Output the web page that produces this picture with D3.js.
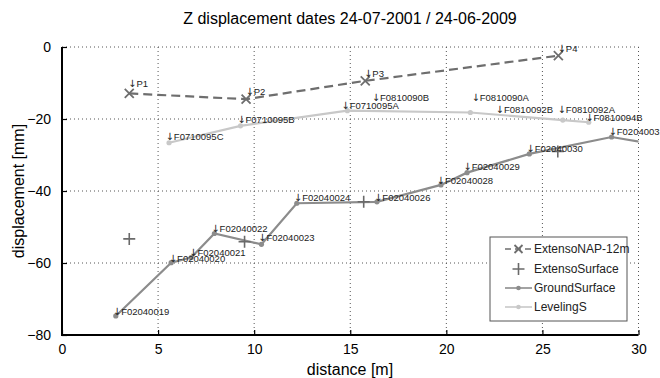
<!DOCTYPE html>
<html><head><meta charset="utf-8">
<script src="https://cdn.jsdelivr.net/npm/d3@7"></script>
<style>
body{margin:0;background:#fff;}
svg{display:block;font-family:"Liberation Sans",Arial,sans-serif;}
</style></head>
<body><svg id="c" width="660" height="378"></svg>
<script>
const titleText = "Z displacement dates 24-07-2001 / 24-06-2009";
const xTicks = [0, 5, 10, 15, 20, 25, 30];
const yTicks = [0, -20, -40, -60, -80];

const napX = [3.5, 9.58, 15.78, 25.83];
const napY = [-12.9, -14.5, -9.4, -2.4];

const surfX = [3.5, 9.5, 15.7, 25.8];
const surfY = [-53.3, -54.1, -43.0, -29.0];

const groundX = [2.8, 5.68, 6.72, 7.93, 10.38, 12.22, 16.39, 19.72, 21.08, 24.32, 28.6, 31.0];
const groundY = [-74.7, -59.9, -58.5, -51.8, -54.8, -43.4, -43.0, -38.3, -34.9, -29.7, -25.0, -27.2];

const levX = [5.57, 9.29, 14.85, 21.25, 26.06, 27.41];
const levY = [-26.6, -21.9, -17.7, -18.2, -20.3, -20.9];

const labelNames = ["P1","P2","P3","P4",
  "F0710095C","F0710095B","F0710095A","F0810090B","F0810090A","F0810092B","F0810092A","F0810094B",
  "F02040031","F02040030","F02040029","F02040028","F02040026","F02040024","F02040023","F02040022","F02040021","F02040020","F02040019"];
const labelX = [3.59, 9.7, 15.87, 25.94,
  5.54, 9.27, 14.69, 16.27, 21.46, 22.72, 25.94, 27.38,
  28.59, 24.32, 21.04, 19.65, 16.39, 12.22, 10.36, 7.92, 6.77, 5.71, 2.8];
const labelY = [-10.3, -12.4, -7.3, -0.4,
  -24.9, -20.3, -16.3, -14.0, -14.0, -17.3, -17.3, -19.5,
  -23.5, -28.2, -33.3, -37.1, -41.9, -41.9, -53.1, -50.4, -57.1, -58.7, -73.5];

const legendNames = ["ExtensoNAP-12m", "ExtensoSurface", "GroundSurface", "LevelingS"];

const colNap = "#6e6e6e", colSurf = "#6a6a6a", colGround = "#8c8c8c", colLev = "#c8c8c8";

const svg = d3.select("#c");
const L = 62, R = 638.5, T = 47, B = 335;
const x = d3.scaleLinear().domain([0, 30]).range([L, R]);
const y = d3.scaleLinear().domain([-80, 0]).range([B, T]);

// grid
const g = svg.append("g");
g.selectAll(".gx").data(xTicks.filter(d => d > 0)).enter().append("line")
  .attr("x1", d => x(d)).attr("x2", d => x(d)).attr("y1", T).attr("y2", B)
  .attr("stroke", "#555").attr("stroke-width", 1).attr("stroke-dasharray", "1,3");
g.selectAll(".gy").data(yTicks.filter(d => d > -80)).enter().append("line")
  .attr("y1", d => y(d)).attr("y2", d => y(d)).attr("x1", L).attr("x2", R)
  .attr("stroke", "#555").attr("stroke-width", 1).attr("stroke-dasharray", "1,3");

// axes
const xAxis = d3.axisBottom(x).tickValues(xTicks).tickSize(-5).tickPadding(9).tickFormat(d3.format("d"));
const yAxis = d3.axisLeft(y).tickValues(yTicks).tickSize(-5).tickPadding(11).tickFormat(d3.format("d"));
const ax = svg.append("g").attr("transform", `translate(0,${B})`).call(xAxis);
const ay = svg.append("g").attr("transform", `translate(${L},0)`).call(yAxis);
[ax, ay].forEach(a => {
  a.select(".domain").remove();
  a.selectAll(".tick line").attr("stroke", "#000").attr("stroke-width", 1.2);
  a.selectAll(".tick text").attr("font-size", 14).attr("fill", "#000")
    .attr("font-family", "Liberation Sans, Arial, sans-serif");
});
ax.selectAll(".tick text").attr("dy", "0.71em");
svg.append("line").attr("x1", L).attr("x2", L).attr("y1", T).attr("y2", B + 1)
  .attr("stroke", "#000").attr("stroke-width", 2);
svg.append("line").attr("x1", L - 1).attr("x2", R).attr("y1", B).attr("y2", B)
  .attr("stroke", "#000").attr("stroke-width", 2);

// clip
svg.append("clipPath").attr("id", "clip").append("rect")
  .attr("x", L).attr("y", T - 10).attr("width", R - L).attr("height", B - T + 10);
const plot = svg.append("g").attr("clip-path", "url(#clip)");

const line = d3.line().x(d => x(d[0])).y(d => y(d[1]));
const zip = (a, b) => a.map((v, i) => [v, b[i]]);

// leveling
const lev = zip(levX, levY);
plot.append("path").attr("d", line(lev)).attr("fill", "none").attr("stroke", colLev).attr("stroke-width", 2.2);
plot.selectAll(".lm").data(lev).enter().append("circle")
  .attr("cx", d => x(d[0])).attr("cy", d => y(d[1])).attr("r", 2.6).attr("fill", colLev);

// ground
const gr = zip(groundX, groundY);
plot.append("path").attr("d", line(gr)).attr("fill", "none").attr("stroke", colGround).attr("stroke-width", 2.2);
plot.selectAll(".gm").data(gr).enter().append("circle")
  .attr("cx", d => x(d[0])).attr("cy", d => y(d[1])).attr("r", 2.6).attr("fill", colGround);

// nap dashed
const nap = zip(napX, napY);
plot.append("path").attr("d", line(nap)).attr("fill", "none").attr("stroke", colNap)
  .attr("stroke-width", 2.2).attr("stroke-dasharray", "9,5");
function xMark(sel, cx, cy, s, col) {
  sel.append("path").attr("d", `M${cx - s},${cy - s}L${cx + s},${cy + s}M${cx - s},${cy + s}L${cx + s},${cy - s}`)
    .attr("stroke", col).attr("stroke-width", 1.8).attr("fill", "none");
}
function plusMark(sel, cx, cy, s, col) {
  sel.append("path").attr("d", `M${cx - s},${cy}L${cx + s},${cy}M${cx},${cy - s}L${cx},${cy + s}`)
    .attr("stroke", col).attr("stroke-width", 1.6).attr("fill", "none");
}
nap.forEach(d => xMark(plot, x(d[0]), y(d[1]), 4.5, colNap));
zip(surfX, surfY).forEach(d => plusMark(plot, x(d[0]), y(d[1]), 6, colSurf));

// labels
const lab = svg.append("g").attr("font-size", 9.5).attr("fill", "#222");
labelNames.forEach((n, i) => {
  const t = lab.append("text").attr("x", x(labelX[i]) - 3).attr("y", y(labelY[i])).attr("dy", "0.35em");
  t.append("tspan").attr("font-family", "DejaVu Sans, sans-serif").attr("font-size", 10).text("↓");
  t.append("tspan").text(n);
});

// title & axis labels
svg.append("text").attr("x", 350).attr("y", 24).attr("text-anchor", "middle")
  .attr("font-size", 16).attr("fill", "#000").text(titleText);
svg.append("text").attr("x", 350).attr("y", 375).attr("text-anchor", "middle")
  .attr("font-size", 16).attr("fill", "#000").text("distance [m]");
svg.append("text").attr("transform", "translate(24,191) rotate(-90)").attr("text-anchor", "middle")
  .attr("font-size", 16).attr("fill", "#000").text("displacement [mm]");

// legend
const lg = svg.append("g");
lg.append("rect").attr("x", 490).attr("y", 237).attr("width", 137).attr("height", 84)
  .attr("fill", "#fff").attr("stroke", "#555").attr("stroke-width", 1);
const rowsY = [249, 269, 288, 307];
legendNames.forEach((n, i) => {
  const yy = rowsY[i];
  if (i === 0) {
    lg.append("line").attr("x1", 505).attr("x2", 532).attr("y1", yy).attr("y2", yy)
      .attr("stroke", colNap).attr("stroke-width", 1.6).attr("stroke-dasharray", "6,4");
    xMark(lg, 518.5, yy, 4, colNap);
  } else if (i === 1) {
    plusMark(lg, 518.5, yy, 6, colSurf);
  } else {
    const c = i === 2 ? colGround : colLev;
    lg.append("line").attr("x1", 505).attr("x2", 532).attr("y1", yy).attr("y2", yy)
      .attr("stroke", c).attr("stroke-width", 1.6);
    lg.append("circle").attr("cx", 518.5).attr("cy", yy).attr("r", 2.3).attr("fill", c);
  }
  lg.append("text").attr("x", 534).attr("y", yy).attr("dy", "0.35em").attr("font-size", 12)
    .attr("fill", "#222").text(n);
});
</script></body></html>
